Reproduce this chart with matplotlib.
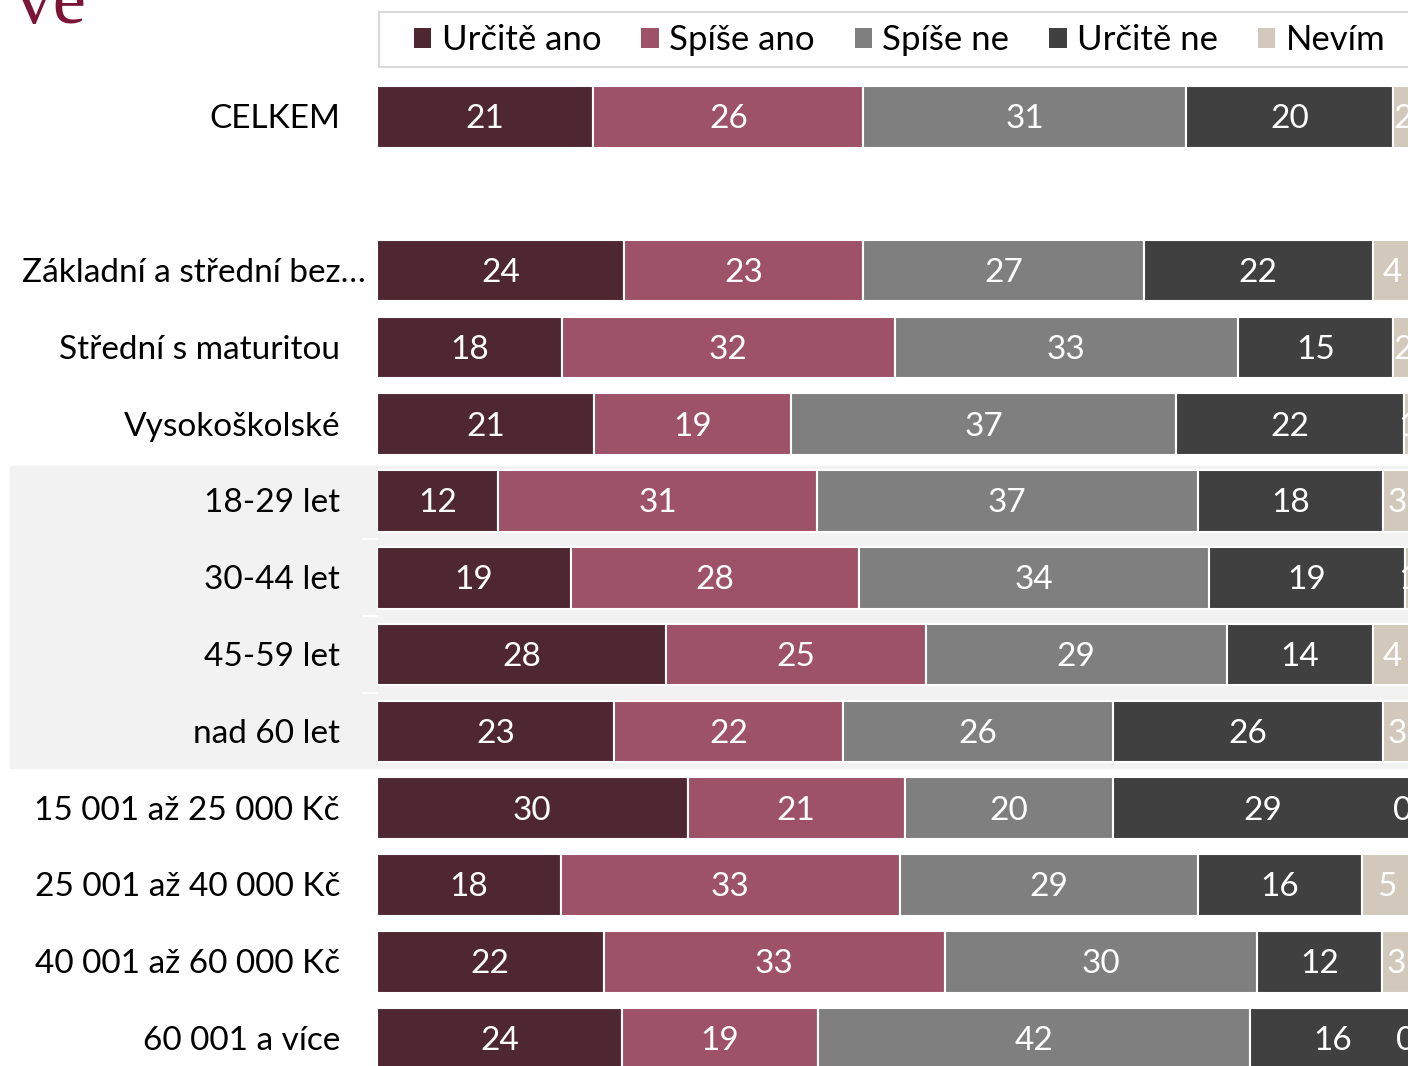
import matplotlib.pyplot as plt
from matplotlib.patches import Rectangle
from matplotlib.transforms import blended_transform_factory

plt.rcParams['font.family'] = ['Lato', 'DejaVu Sans']

# data (percent; labels show rounded values)
categories = ['CELKEM', '', 'Základní a střední bez…', 'Střední s maturitou', 'Vysokoškolské',
              '18-29 let', '30-44 let', '45-59 let', 'nad 60 let',
              '15 001 až 25 000 Kč', '25 001 až 40 000 Kč', '40 001 až 60 000 Kč', '60 001 a více']
series = ['Určitě ano', 'Spíše ano', 'Spíše ne', 'Určitě ne', 'Nevím']
urcite_ano = [20.9, None, 23.9, 17.9, 21.0, 11.7, 18.7, 27.9, 22.9, 30.0, 17.8, 21.9, 23.7]
spise_ano  = [26.1, None, 23.1, 32.1, 19.0, 30.8, 27.9, 25.1, 22.1, 21.0, 32.7, 33.0, 18.9]
spise_ne   = [31.2, None, 27.1, 33.2, 37.2, 36.8, 33.8, 29.1, 26.1, 20.1, 28.8, 30.1, 41.7]
urcite_ne  = [20.0, None, 22.1, 15.0, 22.0, 17.9, 18.9, 14.1, 26.1, 28.9, 15.9, 12.1, 16.0]
nevim      = [1.8, None, 3.8, 1.8, 0.8, 2.8, 0.7, 3.8, 2.8, 0.0, 4.7, 2.8, 0.0]
colors = ['#4E2733', '#9E5268', '#7F7F7F', '#404040', '#D2C9BC']

W, H = 1408, 1066
fig = plt.figure(figsize=(W / 100, H / 100), dpi=100)

# grey band behind the age rows
fig.patches.append(Rectangle((10 / W, 1 - 768 / H), 1.0, 302 / H,
                             transform=fig.transFigure, color='#F2F2F2', zorder=-5))
# legend box
fig.patches.append(Rectangle((379 / W, 1 - 67 / H), 1.0, 55 / H, transform=fig.transFigure,
                             facecolor='white', edgecolor='#D9D9D9', linewidth=1.5, zorder=-5))

ax = fig.add_axes([377 / W, -11 / H, 1035 / W, 998.4 / H])
ax.set_zorder(2)
ax.patch.set_alpha(0)
ax.set_xlim(0, 100)
ax.set_ylim(12.5, -0.5)
ax.axis('off')

rows = [i for i in range(len(categories)) if categories[i]]
left = [0] * len(categories)
handles = []
dy = 0.03
for name, vals, col in zip(series, [urcite_ano, spise_ano, spise_ne, urcite_ne, nevim], colors):
    ws = [vals[i] for i in rows]
    ls = [left[i] for i in rows]
    b = ax.barh(rows, ws, left=ls, height=0.8, color=col, edgecolor='white', linewidth=1.5, label=name)
    handles.append(b)
    for i in rows:
        v = vals[i]
        if v == 0:
            ax.text(left[i], i + dy, '0', ha='right', va='center', color='white', fontsize=24)
        else:
            ax.text(left[i] + v / 2, i + dy, f'{v:.0f}', ha='center', va='center', color='white', fontsize=24)
        left[i] += v

# small white separators left of the age rows
tr = blended_transform_factory(fig.transFigure, ax.transData)
for yb in [5.5, 6.5, 7.5]:
    ax.plot([363 / W, 377 / W], [yb, yb], transform=tr, color='white', lw=1.5, clip_on=False)

# category labels
for i in rows:
    x = 366 / W if categories[i].startswith('Základní') else 340 / W
    ax.text(x, i + dy, categories[i], transform=tr, ha='right', va='center', fontsize=24, color='black')

leg = ax.legend(handles=handles, loc='center left', bbox_to_anchor=(414 / W, 1 - 40 / H),
                bbox_transform=fig.transFigure, ncol=5, frameon=False,
                fontsize=25, handlelength=0.5, handleheight=0.5,
                handletextpad=0.3, columnspacing=1.15, borderpad=0, borderaxespad=0)
for h in leg.legend_handles:
    h.set_edgecolor('none')

fig.text(86 / W, 1 - 23 / H, 'y ve', ha='right', va='baseline', fontsize=54,
         family='Liberation Serif', color='#7B1535')

fig.savefig('out.png', dpi=100)
